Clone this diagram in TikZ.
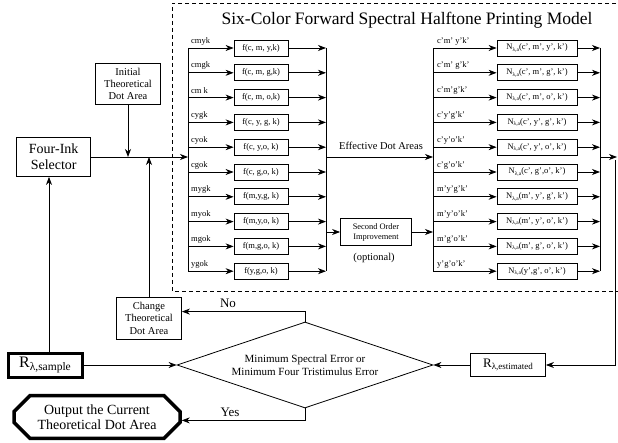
\documentclass[tikz,border=0pt]{standalone}
\usepackage{fontspec}
\setmainfont{Liberation Serif}
\usetikzlibrary{arrows.meta,shapes.geometric,shapes.misc}
\newcommand{\fsz}[2]{\fontsize{#1}{#2}\selectfont}
\newcommand{\Nla}{N\raisebox{-0.35ex}{\fsz{5.5}{6}λ,a}}
\newcommand{\Rla}[3]{{\fsz{#1}{#1}R}\raisebox{-0.45ex}{\fsz{#2}{#2}λ,#3}}
\begin{document}
\begin{tikzpicture}[x=1pt, y=-1pt, >={Stealth[length=8pt,width=6pt,inset=2.5pt]},
  box/.style={draw, line width=0.8pt, align=center, inner sep=1pt},
  fbox/.style={box, minimum width=54, minimum height=16, font=\fsz{8.5}{10}},
  nbox/.style={box, minimum width=80, minimum height=16, font=\fsz{8.5}{10}},
  tag/.style={right, inner sep=0pt, font=\fsz{8.5}{10}},
  flow/.style={->, line width=0.8pt}]
\useasboundingbox (0,0) rectangle (618,443);
% model frame
\draw[dashed, dash pattern=on 4pt off 3pt, line width=0.8pt] (630,3) -- (172,3) -- (172,291) -- (630,291);
\node[font=\fsz{17.5}{20}] (title) at (407,20) {Six-Color Forward Spectral Halftone Printing Model};
% four-ink combinations
\foreach \y/\a/\f/\b/\n [count=\i] in {
  48/cmyk/{f(c, m, y,k)}/{c'm' y'k'}/{(c', m', y', k')},
  72.8/cmgk/{f(c, m, g,k)}/{c'm' g'k'}/{(c', m', g', k')},
  97.6/{cm k}/{f(c, m, o,k)}/{c'm'g'k'}/{(c', m', o', k')},
  122.4/cygk/{f(c, y, g, k)}/{c'y'g'k'}/{(c', y', g', k')},
  147.2/cyok/{f(c, y,o, k)}/{c'y'o'k'}/{(c', y', o', k')},
  172/cgok/{f(c, g,o, k)}/{c'g'o'k'}/{(c', g',o', k')},
  196.8/mygk/{f(m,y,g, k)}/{m'y'g'k'}/{(m', y', g', k')},
  221.6/myok/{f(m,y,o, k)}/{m'y'o'k'}/{(m', y', o', k')},
  246.4/mgok/{f(m,g,o, k)}/{m'g'o'k'}/{(m', g', o', k')},
  271.2/ygok/{f(y,g,o, k)}/{y'g'o'k'}/{(y',g', o', k')}} {
  \node[fbox] (f\i) at (261,\y) {\f};
  \node[tag] (fa\i) at (191,\y-7) {\a};
  \draw[flow] (188,\y) -- (f\i);
  \draw[flow] (f\i) -- (326,\y);
  \node[nbox] (n\i) at (537,\y) {\Nla\n};
  \node[tag] (nb\i) at (437,\y-7) {\b};
  \draw[flow] (433,\y) -- (n\i);
  \draw[flow] (n\i) -- (600,\y);
}
\draw[line width=0.8pt] (188,48) -- (188,271.2);
\draw[line width=0.8pt] (326,48) -- (326,271.2);
\draw[line width=0.8pt] (433,48) -- (433,271.2);
\draw[line width=0.8pt] (600,48) -- (600,271.2);
\draw[flow] (326,157) -- (433,157);
\node[font=\fsz{10.5}{12}] (eff) at (381,146) {Effective Dot Areas};
\node[box, minimum width=71, minimum height=27, font=\fsz{8.4}{10}] (second) at (376,232) {Second Order\\Improvement};
\node[font=\fsz{10.5}{12}] (opt) at (374,258) {(optional)};
\draw[flow] (326,232) -- (second);
\draw[flow] (second) -- (433,232);
% selector side
\node[box, minimum width=74, minimum height=39, font=\fsz{14}{16}] (four) at (53.7,157) {Four-Ink\\Selector};
\node[box, minimum width=65, minimum height=41, font=\fsz{10.5}{12}] (init) at (128,84) {Initial\\Theoretical\\Dot Area};
\node[box, minimum width=65, minimum height=42, font=\fsz{10.5}{12.5}] (change) at (149,318) {Change\\Theoretical\\Dot Area};
\draw[flow] (four) -- (188,157);
\draw[flow] (init) -- (init.south |- four.east);
\draw[flow] (change) -- (change.north |- four.east);
% comparison
\node[draw, diamond, aspect=3, minimum width=256, minimum height=86, inner sep=1pt, line width=0.8pt, align=center, font=\fsz{11}{13.5}] (dia) at (305,365) {Minimum Spectral Error or\\Minimum Four Tristimulus Error};
\node[box, minimum width=75, minimum height=23] (rest) at (508,365) {\Rla{13}{9}{estimated}};
\node[box, line width=3pt, minimum width=74, minimum height=24] (samp) at (45,365) {\Rla{16}{11.5}{sample}};
\node[draw, chamfered rectangle, chamfered rectangle xsep=8pt, chamfered rectangle ysep=8pt, line width=3.5pt, minimum width=166, minimum height=29, inner sep=1pt, align=center, font=\fsz{14}{15}] (out) at (97,417) {Output the Current\\Theoretical Dot Area};
\coordinate (upx) at (49,0);
\coordinate (fb) at (615,157);
\draw[flow] (600,157) -- (617,157);
\draw[flow] (fb) ++(0,3) |- (rest);
\draw[flow] (rest) -- (dia.east);
\draw[flow] (samp) -- (dia.west);
\draw[flow] (samp.north -| upx) -- (four.south -| upx);
\draw[flow] (dia.north) -- ++(0,-10) coordinate (nobend) -- (nobend -| change.east);
\draw[flow] (dia.south) -- ++(0,12) coordinate (yesbend) -- (yesbend -| out.east);
\node[font=\fsz{13}{15}] (no) at (228,303) {No};
\node[font=\fsz{13}{15}] (yes) at (230,412) {Yes};
\end{tikzpicture}
\end{document}
